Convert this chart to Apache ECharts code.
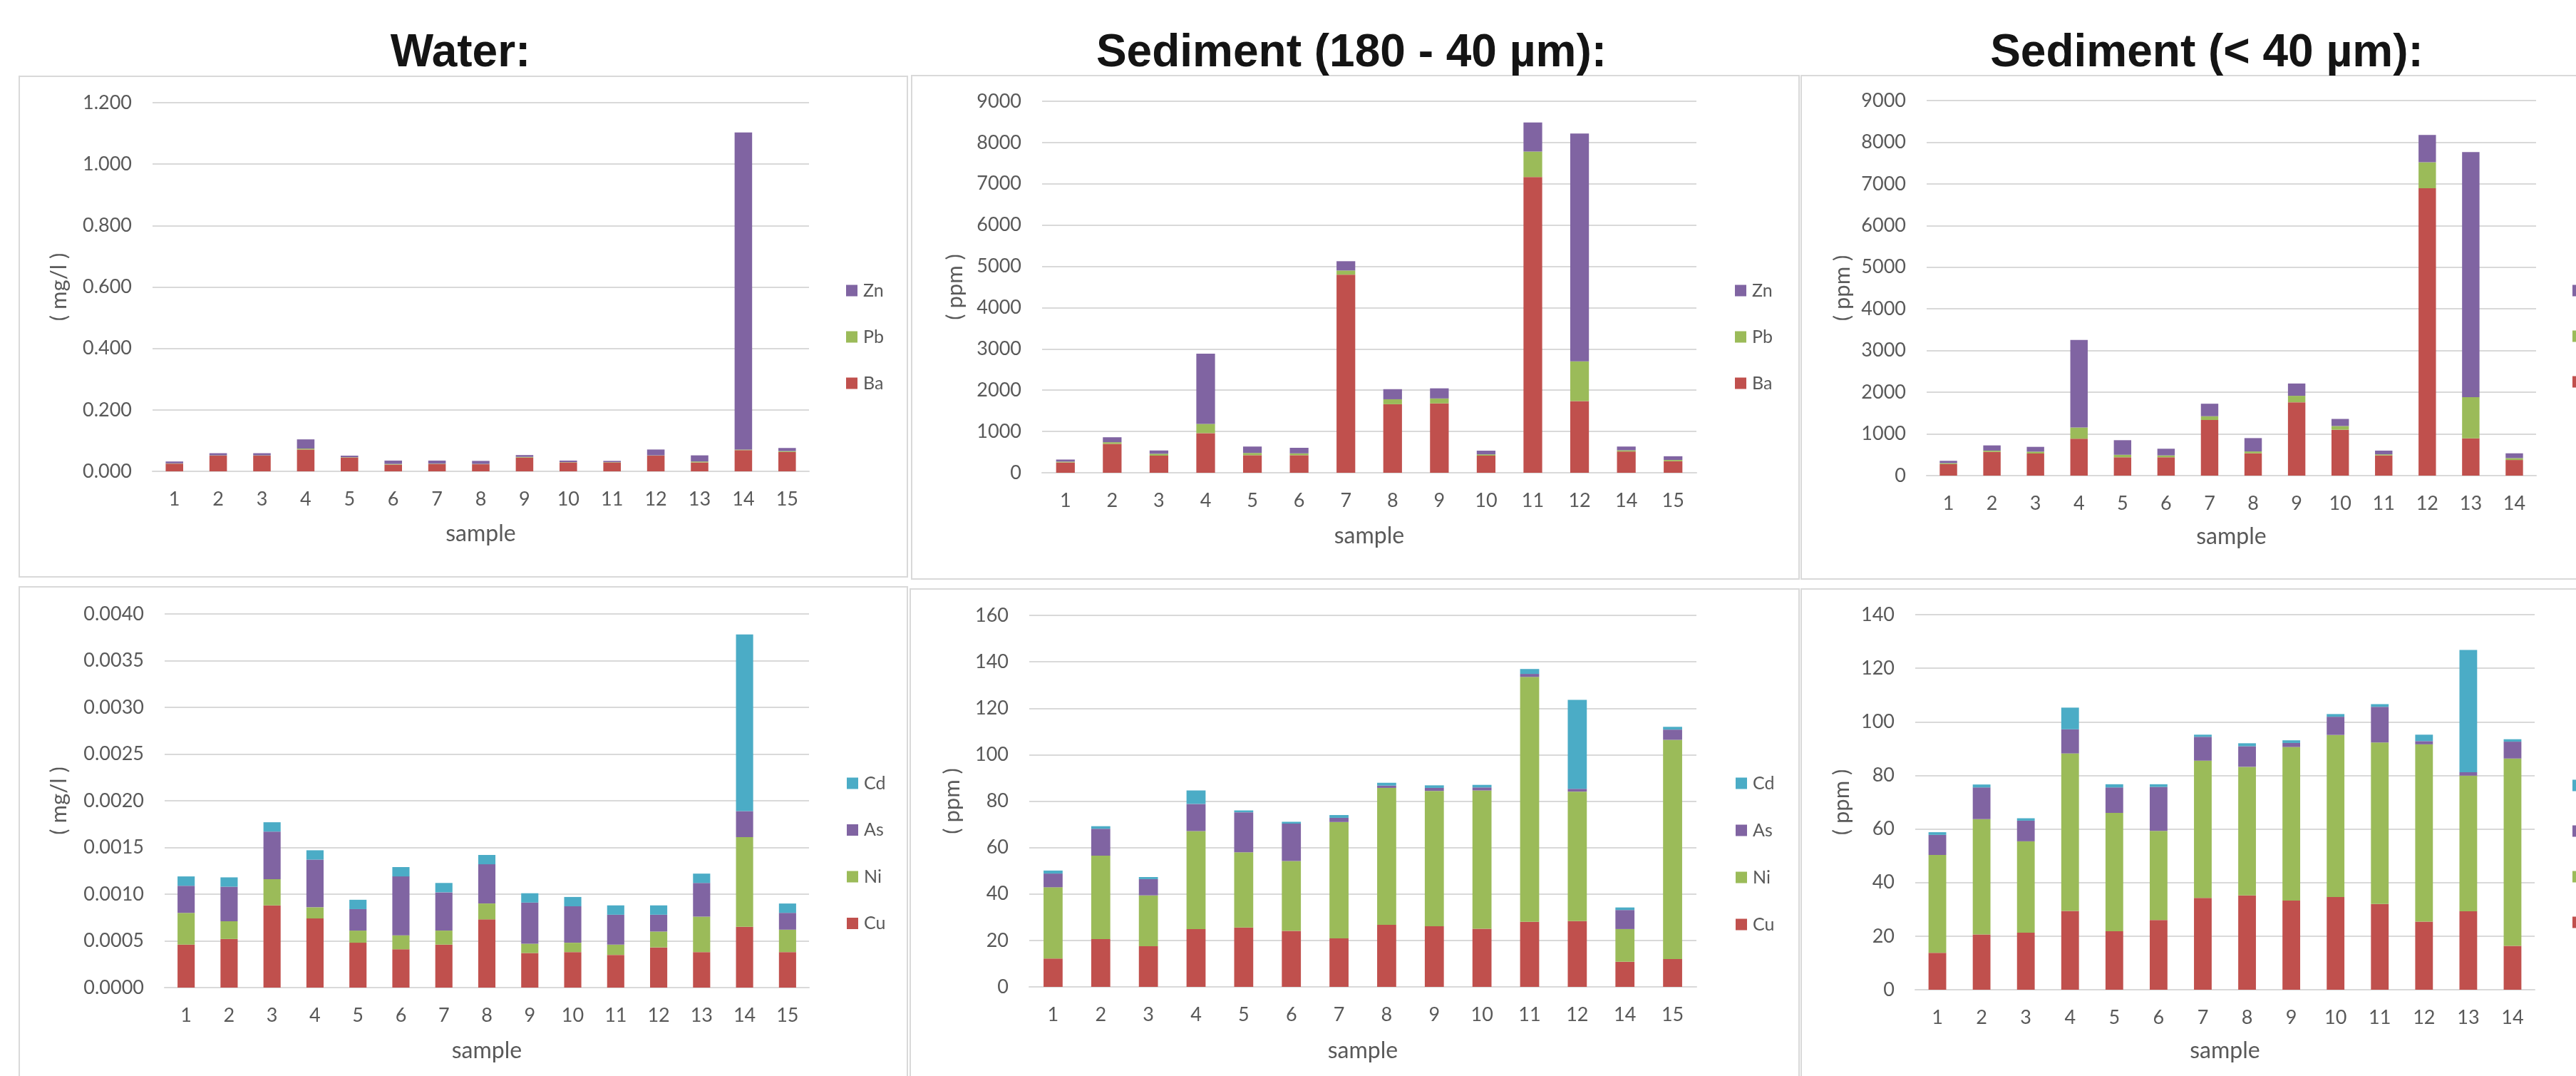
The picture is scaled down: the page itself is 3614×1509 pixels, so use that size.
<!DOCTYPE html>
<html>
<head>
<meta charset="utf-8">
<script src="https://cdn.jsdelivr.net/npm/echarts@6/dist/echarts.min.js"></script>
<style>
html,body{margin:0;padding:0;background:#fff;}
#chart{width:3614px;height:1509px;}
</style>
</head>
<body>
<div id="chart"></div>
<script>
// ---------- DATA ----------
const waterCats = ['1','2','3','4','5','6','7','8','9','10','11','12','13','14','15'];
const waterBa = [0.025,0.051,0.051,0.071,0.045,0.022,0.024,0.023,0.045,0.029,0.029,0.051,0.029,0.069,0.063];
const waterPb = [0.001,0.001,0.001,0.003,0.001,0.002,0.001,0.001,0.002,0.001,0.001,0.001,0.003,0.002,0.003];
const waterZn = [0.006,0.007,0.007,0.030,0.005,0.011,0.010,0.010,0.006,0.005,0.004,0.019,0.020,1.032,0.010];

const waterCu = [0.00046,0.00052,0.00088,0.00074,0.00048,0.00041,0.00046,0.00073,0.00037,0.00038,0.00035,0.00043,0.00038,0.00065,0.00038];
const waterNi = [0.00034,0.00019,0.00028,0.00012,0.00013,0.00015,0.00015,0.00017,0.00010,0.00010,0.00011,0.00017,0.00038,0.00096,0.00024];
const waterAs = [0.00029,0.00037,0.00051,0.00051,0.00023,0.00063,0.00041,0.00042,0.00044,0.00039,0.00032,0.00018,0.00036,0.00028,0.00018];
const waterCd = [0.00010,0.00010,0.00010,0.00010,0.00010,0.00010,0.00010,0.00010,0.00010,0.00010,0.00010,0.00010,0.00010,0.00189,0.00010];

const coarseCats = ['1','2','3','4','5','6','7','8','9','10','11','12','14','15'];
const coarseBa = [250,700,415,960,425,425,4800,1660,1680,415,7165,1735,515,280];
const coarsePb = [20,40,45,225,55,45,100,120,120,30,615,965,30,30];
const coarseZn = [50,120,80,1700,155,135,225,245,245,90,705,5520,90,90];

const coarseCu = [12.2,20.6,17.5,24.9,25.6,24.1,20.9,26.7,26.1,25.0,28.0,28.3,10.8,12.0];
const coarseNi = [30.7,35.9,21.9,42.2,32.4,30.1,50.1,59.0,58.3,59.6,105.5,55.8,14.1,94.4];
const coarseAs = [5.9,11.6,7.0,11.7,17.2,16.1,1.8,1.0,1.3,1.3,1.3,1.2,8.2,4.4];
const coarseCd = [1.3,1.1,0.9,5.8,0.8,0.8,1.2,1.2,1.1,1.1,2.1,38.3,1.1,1.2];

const fineCats = ['1','2','3','4','5','6','7','8','9','10','11','12','13','14'];
const fineBa = [275,570,530,885,440,440,1335,535,1760,1100,485,6895,895,375];
const finePb = [25,30,45,270,60,45,90,45,155,90,25,625,985,45];
const fineZn = [55,125,115,2100,350,160,300,320,295,170,90,655,5885,115];

const fineCu = [13.8,20.6,21.3,29.4,21.8,26.0,34.3,35.2,33.3,34.6,32.0,25.4,29.3,16.4];
const fineNi = [36.5,43.1,34.1,58.8,44.2,33.3,51.2,48.0,57.3,60.5,60.3,66.2,50.6,69.9];
const fineAs = [7.5,11.8,7.7,9.0,9.5,16.4,8.9,7.7,1.5,6.8,13.3,1.2,1.3,6.3];
const fineCd = [1.0,1.1,0.9,8.1,1.2,1.0,0.8,1.1,1.0,1.0,1.0,2.4,45.6,0.9];

const panelTitles = ['Water:', 'Sediment (180 - 40 µm):', 'Sediment (< 40 µm):'];
const majorNames = ['Ba','Pb','Zn'];
const traceNames = ['Cu','Ni','As','Cd'];
const unitWater = '( mg/l )';
const unitSed = '( ppm )';

// ---------- STYLE ----------
const COLORS = {Ba:'#C0504D', Pb:'#9BBB59', Zn:'#8064A2', Cu:'#C0504D', Ni:'#9BBB59', As:'#8064A2', Cd:'#4BACC6'};
const FONT = 'Lato, "Open Sans", sans-serif';
const TXT = '#595959';
const GRIDC = '#D9D9D9';

const panels = [
  {cats: waterCats, data: {Ba: waterBa, Pb: waterPb, Zn: waterZn}, names: majorNames, max: 1.2, interval: 0.2, dec: 3, yName: unitWater,
   grid: {l:214, t:144, r:1135, b:661}, yGap:116, xGap:72, legend:{x:1187, y:395}, legendGap:40},
  {cats: coarseCats, data: {Ba: coarseBa, Pb: coarsePb, Zn: coarseZn}, names: majorNames, max: 9000, interval: 1000, dec: 0, yName: unitSed,
   grid: {l:1462, t:142, r:2380, b:663}, yGap:107, xGap:73, legend:{x:2434, y:395}, legendGap:40},
  {cats: fineCats, data: {Ba: fineBa, Pb: finePb, Zn: fineZn}, names: majorNames, max: 9000, interval: 1000, dec: 0, yName: unitSed,
   grid: {l:2703, t:141, r:3558, b:667}, yGap:103, xGap:70, legend:{x:3609, y:395}, legendGap:39},
  {cats: waterCats, data: {Cu: waterCu, Ni: waterNi, As: waterAs, Cd: waterCd}, names: traceNames, max: 0.004, interval: 0.0005, dec: 4, yName: unitWater,
   grid: {l:231, t:861, r:1135, b:1385}, yGap:133, xGap:73, legend:{x:1188, y:1086}, legendGap:40.5},
  {cats: coarseCats, data: {Cu: coarseCu, Ni: coarseNi, As: coarseAs, Cd: coarseCd}, names: traceNames, max: 160, interval: 20, dec: 0, yName: unitSed,
   grid: {l:1444, t:863, r:2380, b:1384}, yGap:93, xGap:74, legend:{x:2435, y:1086}, legendGap:41},
  {cats: fineCats, data: {Cu: fineCu, Ni: fineNi, As: fineAs, Cd: fineCd}, names: traceNames, max: 140, interval: 20, dec: 0, yName: unitSed,
   grid: {l:2687, t:862, r:3556, b:1388}, yGap:88, xGap:70, legend:{x:3609, y:1089}, legendGap:39}
];

const option = {
  animation: false,
  backgroundColor: '#ffffff',
  title: [],
  grid: [], xAxis: [], yAxis: [], series: [], legend: [],
  graphic: []
};

// panel frames
const frames = [
  [27,107,1273,809],[1279,106,2524,812],[2527,106,3700,812],
  [27,823,1273,1530],[1277,826,2524,1530],[2527,826,3700,1530]
];
frames.forEach(f => {
  option.graphic.push({type:'rect', silent:true, z:-1,
    shape:{x:f[0], y:f[1], width:f[2]-f[0], height:f[3]-f[1]},
    style:{fill:'#fff', stroke:GRIDC, lineWidth:2}});
});

// titles
const titleX = [646, 1896, 3096];
panelTitles.forEach((t,i) => {
  option.title.push({text:t, left:titleX[i], top:43, textAlign:'center', padding:0,
    textStyle:{fontFamily:'"Liberation Sans", Arial, sans-serif', fontWeight:'bold', fontSize:64, color:'#141414'}});
});

panels.forEach((p, i) => {
  option.grid.push({left:p.grid.l, top:p.grid.t, width:p.grid.r-p.grid.l, height:p.grid.b-p.grid.t, containLabel:false});
  option.xAxis.push({type:'category', gridIndex:i, data:p.cats,
    axisLine:{show:true, lineStyle:{color:GRIDC, width:2}}, axisTick:{show:false},
    axisLabel:{color:TXT, fontFamily:FONT, fontSize:27, margin:26},
    name:'sample', nameLocation:'middle', nameGap:p.xGap,
    nameTextStyle:{color:TXT, fontFamily:FONT, fontSize:32}});
  option.yAxis.push({type:'value', gridIndex:i, min:0, max:p.max, interval:p.interval,
    axisLine:{show:false}, axisTick:{show:false},
    splitLine:{show:true, lineStyle:{color:GRIDC, width:2}},
    axisLabel:{color:TXT, fontFamily:FONT, fontSize:27, margin:29,
      formatter: v => Number(v).toFixed(p.dec)},
    name:p.yName, nameLocation:'middle', nameGap:p.yGap,
    nameTextStyle:{color:TXT, fontFamily:FONT, fontSize:31}});
  p.names.forEach(n => {
    option.series.push({type:'bar', name:n, xAxisIndex:i, yAxisIndex:i, stack:'s'+i,
      barWidth:'40%', data:p.data[n], itemStyle:{color:COLORS[n]}});
  });
  option.legend.push({orient:'vertical', left:p.legend.x, top:p.legend.y, padding:0,
    data:p.names.slice().reverse(), itemWidth:16, itemHeight:16, itemGap:p.legendGap, icon:'rect',
    selectedMode:false,
    textStyle:{color:TXT, fontFamily:FONT, fontSize:25, lineHeight:16, padding:[0,0,0,3]}});
});

const chart = echarts.init(document.getElementById('chart'), null, {renderer:'canvas'});
chart.setOption(option);
</script>
</body>
</html>
